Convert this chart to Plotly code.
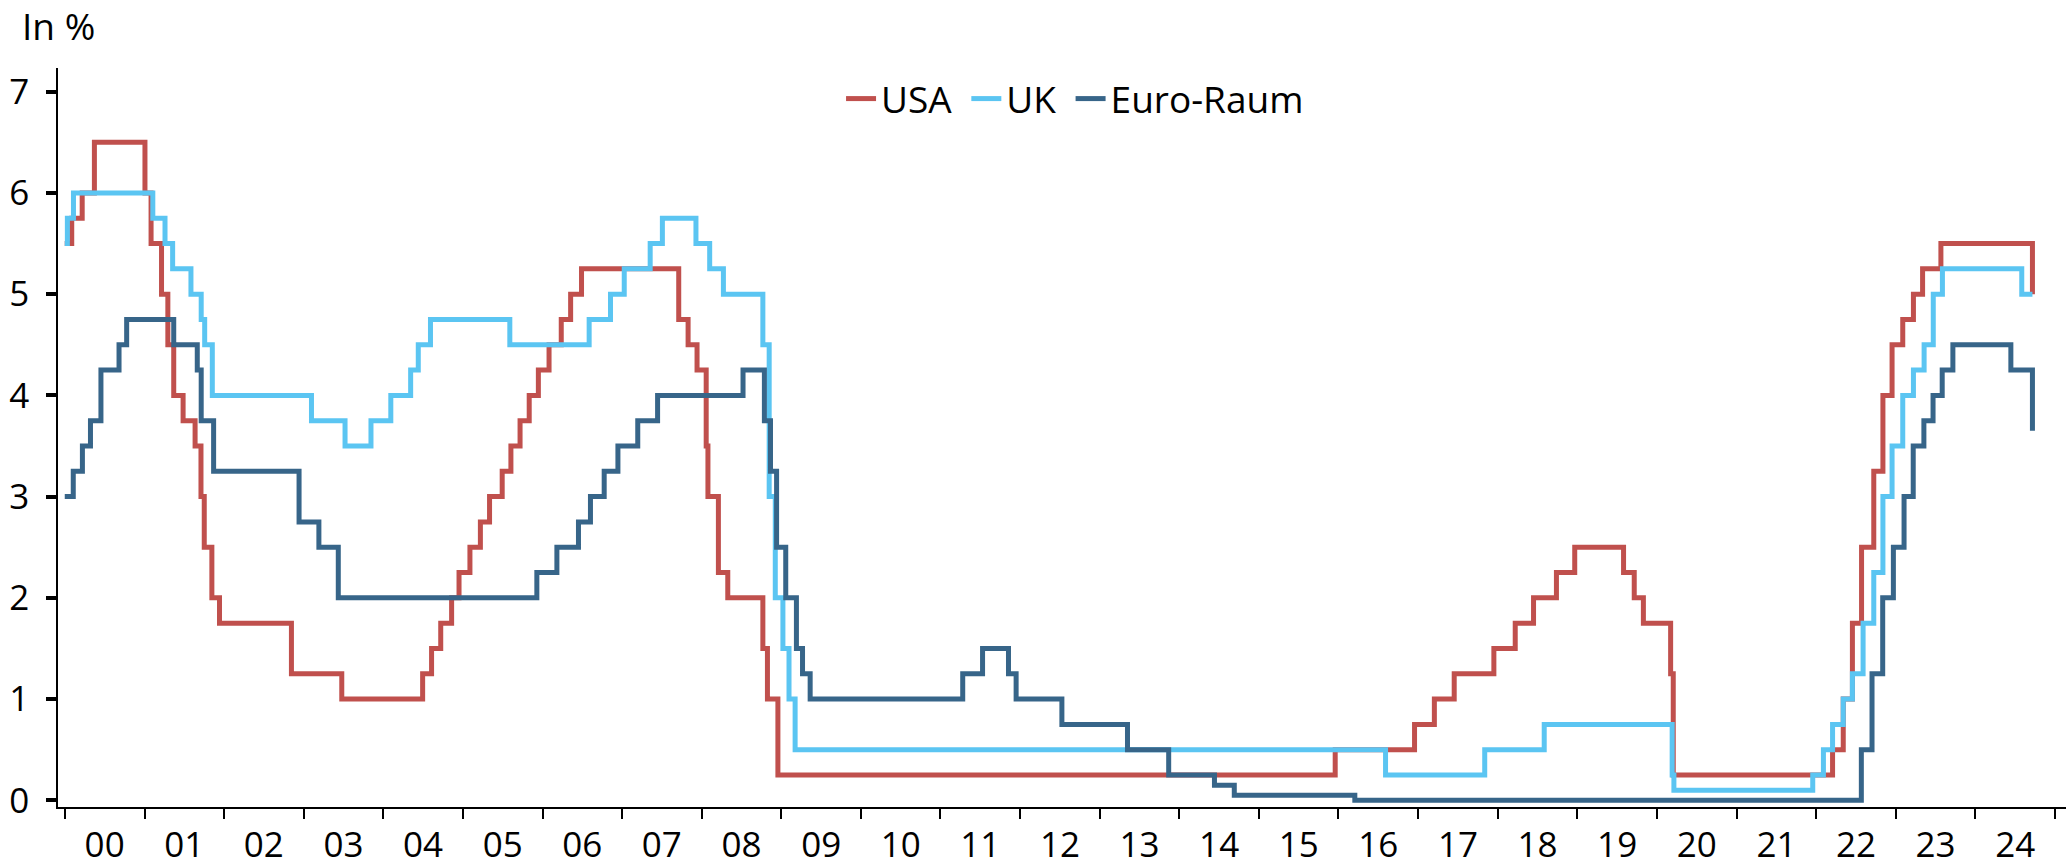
import plotly.graph_objects as go

# Policy rates, step changes (date of change, new level in %)
usa_dates = ["2000-01-01", "2000-02-02", "2000-03-21", "2000-05-16", "2001-01-03", "2001-01-31",
             "2001-03-20", "2001-04-18", "2001-05-15", "2001-06-27", "2001-08-21", "2001-09-17",
             "2001-10-02", "2001-11-06", "2001-12-11", "2002-11-06", "2003-06-25", "2004-06-30",
             "2004-08-10", "2004-09-21", "2004-11-10", "2004-12-14", "2005-02-02", "2005-03-22",
             "2005-05-03", "2005-06-30", "2005-08-09", "2005-09-20", "2005-11-01", "2005-12-13",
             "2006-01-31", "2006-03-28", "2006-05-10", "2006-06-29", "2007-09-18", "2007-10-31",
             "2007-12-11", "2008-01-22", "2008-01-30", "2008-03-18", "2008-04-30", "2008-10-08",
             "2008-10-29", "2008-12-16", "2015-12-17", "2016-12-15", "2017-03-16", "2017-06-15",
             "2017-12-14", "2018-03-22", "2018-06-14", "2018-09-27", "2018-12-20", "2019-08-01",
             "2019-09-19", "2019-10-31", "2020-03-04", "2020-03-16", "2022-03-17", "2022-05-05",
             "2022-06-16", "2022-07-28", "2022-09-22", "2022-11-03", "2022-12-15", "2023-02-02",
             "2023-03-23", "2023-05-04", "2023-07-27", "2024-09-19"]
usa_values = [5.5, 5.75, 6.0, 6.5, 6.0, 5.5,
              5.0, 4.5, 4.0, 3.75, 3.5, 3.0,
              2.5, 2.0, 1.75, 1.25, 1.0, 1.25,
              1.5, 1.75, 2.0, 2.25, 2.5, 2.75,
              3.0, 3.25, 3.5, 3.75, 4.0, 4.25,
              4.5, 4.75, 5.0, 5.25, 4.75, 4.5,
              4.25, 3.5, 3.0, 2.25, 2.0, 1.5,
              1.0, 0.25, 0.5, 0.75, 1.0, 1.25,
              1.5, 1.75, 2.0, 2.25, 2.5, 2.25,
              2.0, 1.75, 1.25, 0.25, 0.5, 1.0,
              1.75, 2.5, 3.25, 4.0, 4.5, 4.75,
              5.0, 5.25, 5.5, 5.0]

uk_dates = ["2000-01-01", "2000-01-13", "2000-02-10", "2001-02-08", "2001-04-05", "2001-05-10",
            "2001-08-02", "2001-09-18", "2001-10-04", "2001-11-08", "2003-02-06", "2003-07-10",
            "2003-11-06", "2004-02-05", "2004-05-06", "2004-06-10", "2004-08-05", "2005-08-04",
            "2006-08-03", "2006-11-09", "2007-01-11", "2007-05-10", "2007-07-05", "2007-12-06",
            "2008-02-07", "2008-04-10", "2008-10-08", "2008-11-06", "2008-12-04", "2009-01-08",
            "2009-02-05", "2009-03-05", "2016-08-04", "2017-11-02", "2018-08-02", "2020-03-11",
            "2020-03-19", "2021-12-16", "2022-02-03", "2022-03-17", "2022-05-05", "2022-06-16",
            "2022-08-04", "2022-09-22", "2022-11-03", "2022-12-15", "2023-02-02", "2023-03-23",
            "2023-05-11", "2023-06-22", "2023-08-03", "2024-08-01", "2024-09-19"]
uk_values = [5.5, 5.75, 6.0, 5.75, 5.5, 5.25,
             5.0, 4.75, 4.5, 4.0, 3.75, 3.5,
             3.75, 4.0, 4.25, 4.5, 4.75, 4.5,
             4.75, 5.0, 5.25, 5.5, 5.75, 5.5,
             5.25, 5.0, 4.5, 3.0, 2.0, 1.5,
             1.0, 0.5, 0.25, 0.5, 0.75, 0.25,
             0.1, 0.25, 0.5, 0.75, 1.0, 1.25,
             1.75, 2.25, 3.0, 3.5, 4.0, 4.25,
             4.5, 5.0, 5.25, 5.0, 5.0]

euro_dates = ["2000-01-01", "2000-02-09", "2000-03-22", "2000-04-28", "2000-06-15", "2000-09-06",
              "2000-10-11", "2001-05-15", "2001-08-31", "2001-09-18", "2001-11-14", "2002-12-11",
              "2003-03-12", "2003-06-09", "2005-12-06", "2006-03-08", "2006-06-15", "2006-08-09",
              "2006-10-11", "2006-12-13", "2007-03-14", "2007-06-13", "2008-07-09", "2008-10-15",
              "2008-11-12", "2008-12-10", "2009-01-21", "2009-03-11", "2009-04-08", "2009-05-13",
              "2011-04-13", "2011-07-13", "2011-11-09", "2011-12-14", "2012-07-11", "2013-05-08",
              "2013-11-13", "2014-06-11", "2014-09-10", "2016-03-16", "2022-07-27", "2022-09-14",
              "2022-11-02", "2022-12-21", "2023-02-08", "2023-03-22", "2023-05-10", "2023-06-21",
              "2023-08-02", "2023-09-20", "2024-06-12", "2024-09-19"]
euro_values = [3.0, 3.25, 3.5, 3.75, 4.25, 4.5,
               4.75, 4.5, 4.25, 3.75, 3.25, 2.75,
               2.5, 2.0, 2.25, 2.5, 2.75, 3.0,
               3.25, 3.5, 3.75, 4.0, 4.25, 3.75,
               3.25, 2.5, 2.0, 1.5, 1.25, 1.0,
               1.25, 1.5, 1.25, 1.0, 0.75, 0.5,
               0.25, 0.15, 0.05, 0.0, 0.5, 1.25,
               2.0, 2.5, 3.0, 3.5, 3.75, 4.0,
               4.25, 4.5, 4.25, 3.65]

series_names = ["USA", "UK", "Euro-Raum"]
series_colors = ["#C0504D", "#5BC5F2", "#376589"]

y_tickvals = [0, 1, 2, 3, 4, 5, 6, 7]
x_range = ["1999-12-01", "2025-02-20"]
y_range = [-0.066, 7.234]

FONT = "Open Sans"
FS = 35
PAD = "\u00a0"

fig = go.Figure()
for i, (name, xs, ys, col) in enumerate(zip(series_names,
                                            [usa_dates, uk_dates, euro_dates],
                                            [usa_values, uk_values, euro_values],
                                            series_colors)):
    label = name + (PAD if i < len(series_names) - 1 else "")
    fig.add_trace(go.Scatter(x=xs, y=ys, name=label, mode="lines",
                             line=dict(color=col, width=5, shape="hv")))

fig.update_layout(
    width=2066, height=866,
    margin=dict(l=58, r=0, t=68, b=59),
    plot_bgcolor="white", paper_bgcolor="white",
    font=dict(family=FONT, size=FS, color="black"),
    showlegend=True,
    legend=dict(orientation="h", x=0.5065, xanchor="center", y=0.958, yanchor="middle",
                font=dict(family=FONT, size=37, color="black"), bgcolor="rgba(0,0,0,0)",
                itemwidth=30),
    xaxis=dict(type="date", range=x_range, dtick="M12", tick0="2000-01-01",
               tickformat="%y", ticklabelmode="period", automargin=False,
               showgrid=False, zeroline=False,
               showline=True, linecolor="black", linewidth=1.7,
               ticks="outside", ticklen=10, tickwidth=1.7, tickcolor="black",
               ticklabelstandoff=-4,
               tickfont=dict(family=FONT, size=FS, color="black")),
    yaxis=dict(range=y_range, tickvals=y_tickvals, automargin=False,
               showgrid=False, zeroline=False,
               showline=True, linecolor="black", linewidth=1.7,
               ticks="outside", ticklen=10, tickwidth=4, tickcolor="black",
               ticklabelstandoff=10,
               tickfont=dict(family=FONT, size=FS, color="black")),
    annotations=[dict(text="In %", xref="paper", yref="paper",
                      x=-38 / 2008, y=1 + (68 - 26) / 738.7,
                      xanchor="left", yanchor="middle", showarrow=False,
                      font=dict(family=FONT, size=37, color="black"))],
)

fig.write_html("out.html",
               config={"displayModeBar": False},
               post_script="document.body.style.margin='0';document.body.style.overflow='hidden';")
